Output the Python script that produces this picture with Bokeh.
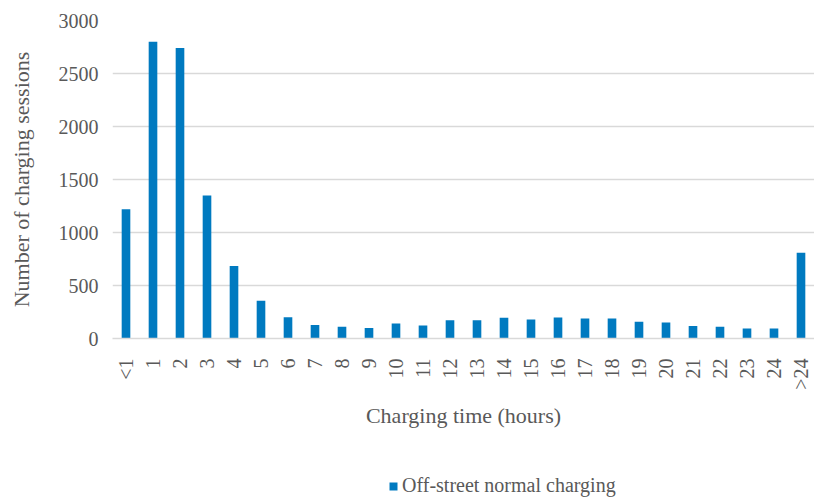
import math
from bokeh.plotting import figure
from bokeh.layouts import column
from bokeh.models import ColumnDataSource, FixedTicker, Legend, LegendItem, FactorRange
from bokeh.embed import file_html
from bokeh.resources import INLINE

categories = ["<1", "1", "2", "3", "4", "5", "6", "7", "8", "9", "10", "11", "12",
              "13", "14", "15", "16", "17", "18", "19", "20", "21", "22", "23", "24", ">24"]
sessions = [1220, 2800, 2740, 1350, 685, 357, 200, 128, 110, 100, 141, 122, 172,
            172, 195, 179, 197, 188, 188, 157, 150, 119, 110, 94, 94, 810]
series_name = "Off-street normal charging"
y_ticks = [0, 500, 1000, 1500, 2000, 2500, 3000]

FONT = "Liberation Serif"
GREY = "#595959"
BLUE = "#007AC0"

source = ColumnDataSource(dict(cat=categories, val=sessions))

p = figure(width=814, height=430, x_range=FactorRange(*categories, range_padding=0),
           y_range=(0, 3000), output_backend="svg", toolbar_location=None,
           min_border_left=112, min_border_right=0, min_border_top=20, min_border_bottom=91)
p.outline_line_color = None

r = p.vbar(x="cat", top="val", width=0.32, source=source, fill_color=BLUE, line_color=None)

# y axis
p.yaxis.ticker = FixedTicker(ticks=y_ticks)
p.yaxis.axis_line_color = None
p.yaxis.major_tick_line_color = None
p.yaxis.minor_tick_line_color = None
p.yaxis.major_label_text_font = FONT
p.yaxis.major_label_text_font_size = "20px"
p.yaxis.major_label_text_color = GREY
p.yaxis.major_label_standoff = 8
p.yaxis.axis_label = "Number of charging sessions"
p.yaxis.axis_label_text_font = FONT
p.yaxis.axis_label_text_font_size = "22px"
p.yaxis.axis_label_text_font_style = "normal"
p.yaxis.axis_label_text_color = GREY
p.yaxis.axis_label_standoff = 22

# x axis
p.xaxis.axis_line_color = "#D9D9D9"
p.xaxis.axis_line_width = 1.3
p.xaxis.major_tick_line_color = None
p.xaxis.minor_tick_line_color = None
p.xaxis.major_label_orientation = math.pi / 2
p.xaxis.major_label_text_font = FONT
p.xaxis.major_label_text_font_size = "20px"
p.xaxis.major_label_text_color = GREY
p.xaxis.major_label_standoff = 14
p.xaxis.axis_label = "Charging time (hours)"
p.xaxis.axis_label_text_font = FONT
p.xaxis.axis_label_text_font_size = "22px"
p.xaxis.axis_label_text_font_style = "normal"
p.xaxis.axis_label_text_color = GREY
p.xaxis.axis_label_standoff = 10

p.xgrid.grid_line_color = None
p.ygrid.ticker = FixedTicker(ticks=y_ticks)
p.ygrid.grid_line_color = "#D9D9D9"
p.ygrid.grid_line_width = 1.3

# legend row beneath the chart
pl = figure(width=814, height=67, output_backend="svg", toolbar_location=None,
            x_range=(0, 1), y_range=(0, 1),
            x_axis_location=None, y_axis_location=None,
            min_border_left=0, min_border_right=0, min_border_top=0, min_border_bottom=0)
pl.outline_line_color = None
pl.grid.visible = False
rl = pl.vbar(x=[-10], top=[-10], width=0.32, fill_color=BLUE, line_color=None)

legend = Legend(items=[LegendItem(label=series_name, renderers=[rl])],
                location=(276, 0), orientation="horizontal",
                label_text_font=FONT, label_text_font_size="20px", label_text_color=GREY,
                glyph_width=10, glyph_height=10, label_standoff=4,
                border_line_color=None, background_fill_alpha=0,
                padding=1, margin=0)
pl.add_layout(legend, "center")

layout = column(p, pl, spacing=0)

open("out.html", "w").write(file_html(layout, INLINE))
